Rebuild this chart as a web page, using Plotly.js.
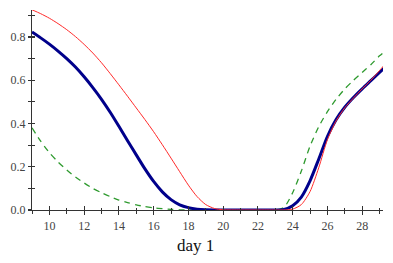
<!DOCTYPE html>
<html>
<head>
<meta charset="utf-8">
<script src="https://cdn.plot.ly/plotly-3.0.1.min.js"></script>
<style>html,body{margin:0;padding:0;background:#fff;}#chart{width:393px;height:263px;}</style>
</head>
<body>
<div id="chart"></div>
<script>
// Day values (x)
var days = [9, 9.5, 10, 10.5, 11, 11.5, 12, 12.5, 13, 13.5, 14, 14.5, 15, 15.5, 16, 16.5, 17, 17.5, 18, 18.5, 19, 19.5, 20, 21, 22, 23, 23.5, 24, 24.5, 25, 25.5, 26, 26.5, 27, 27.5, 28, 28.5, 29, 29.25];
// Series values
var redSeries = [0.926, 0.908, 0.887, 0.862, 0.834, 0.802, 0.766, 0.726, 0.681, 0.631, 0.579, 0.526, 0.472, 0.418, 0.362, 0.302, 0.24, 0.177, 0.115, 0.062, 0.025, 0.007, 0.001, 0, 0, 0, 0, 0.004, 0.025, 0.085, 0.195, 0.325, 0.412, 0.473, 0.518, 0.56, 0.6, 0.645, 0.668];
var navySeries = [0.823, 0.796, 0.767, 0.735, 0.7, 0.661, 0.616, 0.566, 0.512, 0.452, 0.387, 0.32, 0.255, 0.19, 0.132, 0.084, 0.048, 0.024, 0.011, 0.004, 0.001, 0, 0, 0, 0, 0, 0.003, 0.02, 0.06, 0.135, 0.235, 0.34, 0.418, 0.475, 0.52, 0.56, 0.598, 0.636, 0.655];
var greenSeries = [0.38, 0.318, 0.265, 0.222, 0.185, 0.153, 0.125, 0.1, 0.08, 0.062, 0.046, 0.034, 0.024, 0.016, 0.01, 0.006, 0.003, 0.001, 0, 0, 0, 0, 0, 0, 0, 0, 0.012, 0.08, 0.18, 0.295, 0.385, 0.455, 0.512, 0.56, 0.6, 0.636, 0.672, 0.713, 0.73];
var xTickVals = [10, 12, 14, 16, 18, 20, 22, 24, 26, 28];
var yTickVals = [0, 0.2, 0.4, 0.6, 0.8];
var xTitle = 'day 1';

var serif = 'Liberation Serif';
var axisColor = '#333';

var traces = [
  {x: days, y: greenSeries, type: 'scatter', mode: 'lines', line: {color: '#2e9a2e', width: 1.3, dash: '6px,5px', shape: 'spline', smoothing: 0.7}, hoverinfo: 'skip'},
  {x: days, y: navySeries, type: 'scatter', mode: 'lines', line: {color: '#00008b', width: 3, shape: 'spline', smoothing: 0.7}, hoverinfo: 'skip'},
  {x: days, y: redSeries, type: 'scatter', mode: 'lines', line: {color: '#ff2a2a', width: 1, shape: 'spline', smoothing: 0.7}, hoverinfo: 'skip'},
  {x: [9], y: [0], xaxis: 'x2', yaxis: 'y2', mode: 'markers', marker: {opacity: 0}, hoverinfo: 'skip'}
];

var xRange = [9, 29.2];
var yRange = [0, 0.925];

var layout = {
  width: 393, height: 263,
  margin: {l: 32, r: 10, t: 10, b: 53},
  paper_bgcolor: '#fff', plot_bgcolor: '#fff',
  showlegend: false,
  font: {family: serif},
  xaxis: {
    range: xRange, showgrid: false, zeroline: false,
    showline: true, linecolor: axisColor, linewidth: 1.2,
    tickmode: 'array', tickvals: xTickVals, ticks: 'outside', ticklen: 4, tickwidth: 1.2, tickcolor: axisColor,
    minor: {dtick: 1, tick0: 9, ticks: 'outside', ticklen: 2.5, tickwidth: 1, tickcolor: axisColor, showgrid: false},
    tickfont: {family: serif, size: 12, color: '#444'},
    anchor: 'y'
  },
  yaxis: {
    range: yRange, showgrid: false, zeroline: false,
    showline: true, linecolor: axisColor, linewidth: 1.2,
    tickmode: 'array', tickvals: yTickVals, tickformat: '.1f', ticks: 'outside', ticklen: 3, tickwidth: 1.2, tickcolor: axisColor,
    minor: {dtick: 0.1, tick0: 0, ticks: 'outside', ticklen: 2.5, tickwidth: 1, tickcolor: axisColor, showgrid: false},
    tickfont: {family: serif, size: 12, color: '#444'},
    anchor: 'x'
  },
  xaxis2: {
    range: xRange, overlaying: 'x', anchor: 'y2', showgrid: false, zeroline: false, showline: false,
    tickmode: 'array', tickvals: xTickVals, ticks: 'inside', ticklen: 4, tickwidth: 1.2, tickcolor: axisColor,
    minor: {dtick: 1, tick0: 9, ticks: 'inside', ticklen: 2.5, tickwidth: 1, tickcolor: axisColor, showgrid: false},
    showticklabels: false
  },
  yaxis2: {
    range: yRange, overlaying: 'y', anchor: 'x2', showgrid: false, zeroline: false, showline: false,
    tickmode: 'array', tickvals: yTickVals, ticks: 'inside', ticklen: 3, tickwidth: 1.2, tickcolor: axisColor,
    minor: {dtick: 0.1, tick0: 0, ticks: 'inside', ticklen: 2.5, tickwidth: 1, tickcolor: axisColor, showgrid: false},
    showticklabels: false
  },
  annotations: [{
    text: xTitle, xref: 'paper', yref: 'paper', x: 0.467, y: -0.175,
    xanchor: 'center', yanchor: 'middle', showarrow: false,
    font: {family: serif, size: 17, color: '#111'}
  }]
};

Plotly.newPlot('chart', traces, layout, {displayModeBar: false, staticPlot: true});
</script>
</body>
</html>
